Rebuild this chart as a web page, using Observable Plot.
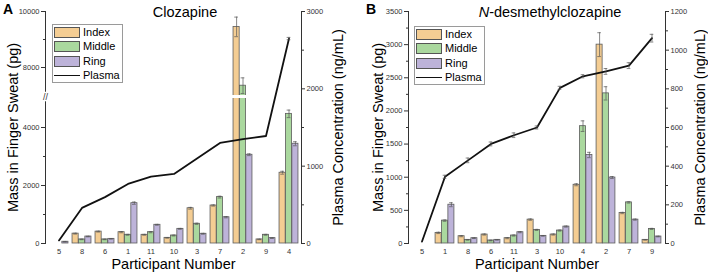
<!DOCTYPE html>
<html><head><meta charset="utf-8">
<script src="https://cdn.jsdelivr.net/npm/d3@7"></script>
<script src="https://cdn.jsdelivr.net/npm/@observablehq/plot@0.6"></script>
<style>
body{margin:0;background:#fff;font-family:"Liberation Sans",Arial,sans-serif;}
#wrap{position:relative;width:708px;height:279px;display:flex;}
.panel{position:relative;width:354px;height:279px;}
.panel svg{display:block;}
.letter{position:absolute;font-weight:bold;font-size:14px;line-height:1;color:#000;}
.title{position:absolute;font-size:14.5px;line-height:1;color:#000;white-space:nowrap;transform:translateX(-50%);}
.legend{position:absolute;border:1px solid #9a9a9a;background:#fff;box-sizing:border-box;}
.legend .row{position:absolute;left:0;height:12px;display:flex;align-items:center;font-size:11px;line-height:1;color:#000;}
.legend .sw{width:26px;height:11px;box-sizing:border-box;border:1px solid #555;margin-right:3px;}
.legend .ln{width:26px;height:0;border-top:1.8px solid #111;margin-right:3px;}
</style>
</head><body>
<div id="wrap"></div>
<script>
// ---------- Data ----------
const fingerNames = ["Index", "Middle", "Ring"];
const fingerColors = ["#F4CD93", "#AAD89E", "#BDB3D9"];

// Panel A: Clozapine
const participantsA = ["5", "8", "6", "1", "11", "10", "3", "7", "2", "9", "4"];
const indexA     = [0, 340, 410, 390, 300, 195, 1215, 1310, 9450, 140, 2440];
const indexErrA  = [0, 15, 15, 20, 15, 12, 30, 20, 350, 10, 50];
const middleA    = [0, 140, 140, 300, 390, 275, 680, 1600, 7350, 300, 4470];
const middleErrA = [0, 10, 10, 15, 20, 15, 20, 30, 280, 15, 130];
const ringA      = [60, 240, 160, 1390, 645, 505, 335, 905, 3060, 185, 3440];
const ringErrA   = [10, 10, 10, 40, 15, 15, 15, 20, 30, 10, 70];
const plasmaA    = [40, 460, 600, 770, 865, 900, 1100, 1300, 1350, 1390, 2650];
const plasmaErrA = [0, 0, 0, 0, 0, 0, 0, 0, 0, 0, 15];
const leftTicksA  = [0, 2000, 4000, 8000, 10000];
const leftMinorA  = [1000, 3000, 9000];
const rightTicksA = [0, 1000, 2000, 3000];
const rightMinorA = [500, 1500, 2500];
const breakA = [5000, 7000];

// Panel B: N-desmethylclozapine
const participantsB = ["5", "1", "8", "6", "11", "3", "10", "4", "2", "7", "9"];
const indexB     = [0, 160, 110, 135, 80, 360, 135, 886, 3000, 460, 55];
const indexErrB  = [0, 10, 8, 8, 8, 10, 8, 15, 180, 10, 5];
const middleB    = [0, 345, 55, 45, 120, 205, 195, 1770, 2265, 620, 220];
const middleErrB = [0, 10, 5, 5, 8, 8, 8, 80, 100, 10, 8];
const ringB      = [0, 585, 80, 55, 170, 115, 255, 1335, 995, 360, 105];
const ringErrB   = [0, 30, 5, 5, 8, 5, 8, 40, 15, 8, 5];
const plasmaB    = [10, 345, 430, 515, 560, 600, 805, 865, 890, 920, 1062];
const plasmaErrB = [0, 8, 12, 10, 12, 8, 8, 8, 15, 15, 20];
const leftTicksB  = [0, 500, 1000, 1500, 2000, 2500, 3000, 3500];
const leftMinorB  = [250, 750, 1250, 1750, 2250, 2750, 3250];
const rightTicksB = [0, 200, 400, 600, 800, 1000, 1200];
const rightMinorB = [100, 300, 500, 700, 900, 1100];

// ---------- Drawing ----------
const H = 279, mT = 11, mB = 36;
const FONT = "Liberation Sans, Arial, sans-serif";

function drawPanel(cfg) {
  const {parts, series, plasma, plasmaErr, mL, mR, yDomain, leftTicks, leftMinor,
         rightTicks, rightMinor, rightMax, brk, yLabelDx, rLabelDx} = cfg;
  const W = 354;
  const bottom = H - mB;
  let yRange;
  if (yDomain.length === 4) yRange = [bottom, 98, 95, mT];
  else yRange = [bottom, mT];
  const fwdY = d3.scaleLinear().domain(yDomain).range(yRange);
  const invY = d3.scaleLinear().domain(yRange).range(yDomain);
  const rightPix = d3.scaleLinear().domain([0, rightMax]).range([bottom, mT]);
  const toLeft = v => invY(rightPix(v));
  const fromLeft = u => rightPix.invert(fwdY(u));

  const bw = (W - mL - mR) / parts.length;
  const barW = 6.4;
  const pad = (bw - 3 * barW) / 2;
  const ec = "#555";
  const marks = [];

  series.forEach((s, k) => {
    const rows = parts.map((p, i) => ({p, v: s.v[i], e: s.e[i]})).filter(d => d.v > 0);
    const insL = pad + k * barW;
    const insR = bw - insL - barW;
    marks.push(Plot.barY(rows, {x: "p", y: "v", fill: s.color, stroke: "#5c5c5c", strokeWidth: 0.8,
      insetLeft: insL, insetRight: insR}));
    const off = insL + barW / 2 - bw / 2;
    const er = rows.filter(d => d.e > 0);
    marks.push(Plot.ruleX(er, {x: "p", y1: d => d.v - d.e, y2: d => d.v + d.e, dx: off, stroke: ec, strokeWidth: 0.7}));
    for (const sign of [1, -1]) {
      marks.push(Plot.tickY(er, {x: "p", y: d => d.v + sign * d.e, insetLeft: bw / 2 + off - 2,
        insetRight: bw / 2 - off - 2, stroke: ec, strokeWidth: 0.7}));
    }
  });

  marks.push(Plot.frame({anchor: "left", stroke: "#333", strokeWidth: 1}));
  marks.push(Plot.frame({anchor: "right", stroke: "#333", strokeWidth: 1}));

  if (brk) {
    marks.push(Plot.barY([0], {y1: () => brk[0], y2: () => brk[1], fill: "white"}));
    marks.push(Plot.text([0], {frameAnchor: "left", textAnchor: "middle", y: () => (brk[0] + brk[1]) / 2, text: () => "//",
      fontSize: 9, fill: "#333", stroke: "white", strokeWidth: 2.5, fontFamily: FONT}));
  }

  const prow = parts.map((p, i) => ({p, v: plasma[i], e: plasmaErr[i]}));
  marks.push(Plot.lineY(prow, {x: "p", y: d => toLeft(d.v), stroke: "#111", strokeWidth: 1.8}));
  const per = prow.filter(d => d.e > 0);
  marks.push(Plot.ruleX(per, {x: "p", y1: d => toLeft(d.v - d.e), y2: d => toLeft(d.v + d.e), stroke: ec, strokeWidth: 0.7}));
  for (const sign of [1, -1]) {
    marks.push(Plot.tickY(per, {x: "p", y: d => toLeft(d.v + sign * d.e), insetLeft: bw / 2 - 2,
      insetRight: bw / 2 - 2, stroke: ec, strokeWidth: 0.7}));
  }

  marks.push(Plot.axisY(leftTicks, {anchor: "left", tickSize: 4, tickPadding: 2, fontSize: 7.5, color: "#333",
    label: null, tickFormat: d => String(d)}));
  marks.push(Plot.axisY(leftMinor, {anchor: "left", tickSize: 2, tickFormat: () => "", color: "#333", label: null}));
  marks.push(Plot.axisY(rightTicks.map(toLeft), {anchor: "right", tickSize: 3, tickPadding: 2, fontSize: 7.5,
    color: "#333", label: null, tickFormat: u => String(Math.round(fromLeft(u)))}));
  marks.push(Plot.axisY(rightMinor.map(toLeft), {anchor: "right", tickSize: 2, tickFormat: () => "", color: "#333", label: null}));
  marks.push(Plot.axisX({tickSize: 0, tickPadding: 5, fontSize: 7.5, color: "#333", label: null}));

  marks.push(Plot.text(["Mass in Finger Sweat (pg)"], {frameAnchor: "left", textAnchor: "middle", dx: yLabelDx, rotate: -90,
    text: d => d, fontSize: 14.5, fill: "#000", fontFamily: FONT}));
  marks.push(Plot.text(["Plasma Concentration (ng/mL)"], {frameAnchor: "right", textAnchor: "middle", dx: rLabelDx, rotate: -90,
    text: d => d, fontSize: 14.5, fill: "#000", fontFamily: FONT}));
  marks.push(Plot.text(["Participant Number"], {frameAnchor: "bottom", dy: 25,
    text: d => d, fontSize: 14.5, fill: "#000", fontFamily: FONT}));

  return Plot.plot({
    width: W, height: H, marginLeft: mL, marginRight: mR, marginTop: mT, marginBottom: mB,
    style: {fontFamily: FONT, background: "white", overflow: "visible"},
    x: {type: "band", domain: parts, padding: 0, label: null, axis: null},
    y: {type: "linear", domain: yDomain, range: yRange, label: null, axis: null},
    marks
  });
}

function addLegend(panel, left, top) {
  const lg = document.createElement("div");
  lg.className = "legend";
  lg.style.left = left + "px"; lg.style.top = top + "px";
  lg.style.width = "71px"; lg.style.height = "59px";
  const items = fingerNames.map((n, i) => ({n, c: fingerColors[i]})).concat([{n: "Plasma", c: null}]);
  items.forEach((it, i) => {
    const r = document.createElement("div");
    r.className = "row";
    r.style.top = (1 + i * 14.6) + "px";
    r.style.left = "1px";
    const s = document.createElement("div");
    if (it.c) { s.className = "sw"; s.style.background = it.c; } else { s.className = "ln"; }
    r.appendChild(s);
    const t = document.createElement("span");
    t.textContent = it.n;
    r.appendChild(t);
    lg.appendChild(r);
  });
  panel.appendChild(lg);
}

function mkSeries(v1, e1, v2, e2, v3, e3) {
  return [
    {v: v1, e: e1, color: fingerColors[0]},
    {v: v2, e: e2, color: fingerColors[1]},
    {v: v3, e: e3, color: fingerColors[2]}
  ];
}

const wrap = document.getElementById("wrap");

const pA = document.createElement("div"); pA.className = "panel"; wrap.appendChild(pA);
pA.appendChild(drawPanel({
  parts: participantsA,
  series: mkSeries(indexA, indexErrA, middleA, middleErrA, ringA, ringErrA),
  plasma: plasmaA, plasmaErr: plasmaErrA,
  mL: 45, mR: 53, yDomain: [0, breakA[0], breakA[1], 10000],
  leftTicks: leftTicksA, leftMinor: leftMinorA,
  rightTicks: rightTicksA, rightMinor: rightMinorA, rightMax: 3000,
  brk: breakA, yLabelDx: -32, rLabelDx: 37
}));
{
  const l = document.createElement("div"); l.className = "letter"; l.textContent = "A";
  l.style.left = "3px"; l.style.top = "2px"; pA.appendChild(l);
  const t = document.createElement("div"); t.className = "title"; t.textContent = "Clozapine";
  t.style.left = "185px"; t.style.top = "5px"; pA.appendChild(t);
  addLegend(pA, 52, 24);
}

const pB = document.createElement("div"); pB.className = "panel"; wrap.appendChild(pB);
pB.appendChild(drawPanel({
  parts: participantsB,
  series: mkSeries(indexB, indexErrB, middleB, middleErrB, ringB, ringErrB),
  plasma: plasmaB, plasmaErr: plasmaErrB,
  mL: 54, mR: 43, yDomain: [0, 3500],
  leftTicks: leftTicksB, leftMinor: leftMinorB,
  rightTicks: rightTicksB, rightMinor: rightMinorB, rightMax: 1200,
  brk: null, yLabelDx: -30, rLabelDx: 35
}));
{
  const l = document.createElement("div"); l.className = "letter"; l.textContent = "B";
  l.style.left = "12px"; l.style.top = "2px"; pB.appendChild(l);
  const t = document.createElement("div"); t.className = "title";
  t.innerHTML = "<i>N</i>-desmethylclozapine";
  t.style.left = "196px"; t.style.top = "5px"; pB.appendChild(t);
  addLegend(pB, 60, 26);
}
</script>
</body></html>
